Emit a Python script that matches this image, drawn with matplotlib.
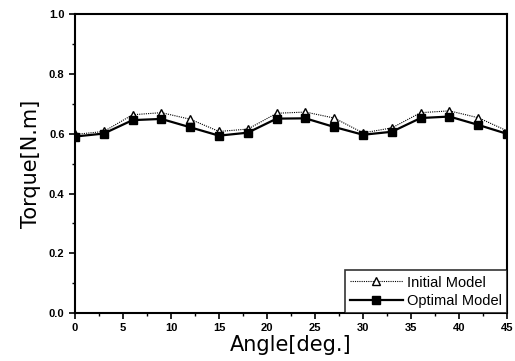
import matplotlib
matplotlib.use("Agg")
import matplotlib.pyplot as plt
from matplotlib.ticker import MultipleLocator

angle = [0, 3, 6, 9, 12, 15, 18, 21, 24, 27, 30, 33, 36, 39, 42, 45]
initial = [0.598, 0.608, 0.664, 0.671, 0.649, 0.608, 0.616, 0.669, 0.673, 0.653,
           0.603, 0.620, 0.671, 0.677, 0.654, 0.610]
optimal = [0.591, 0.601, 0.646, 0.650, 0.622, 0.594, 0.604, 0.651, 0.652, 0.623,
           0.597, 0.607, 0.653, 0.658, 0.630, 0.600]
xticks = [0, 5, 10, 15, 20, 25, 30, 35, 40, 45]
yticks = [0.0, 0.2, 0.4, 0.6, 0.8, 1.0]

fig = plt.figure(figsize=(5.15, 3.61), dpi=100)
ax = fig.add_axes([0.1456, 0.133, 0.839, 0.827])

ax.plot(angle, initial, linestyle=(0, (1, 1)), color="black", linewidth=0.8,
        marker="^", markersize=5.5, markerfacecolor="white", markeredgecolor="black",
        label="Initial Model")
ax.plot(angle, optimal, linestyle="-", color="black", linewidth=1.6,
        marker="s", markersize=5.5, markerfacecolor="black", label="Optimal Model")

ax.set_xlim(0, 45)
ax.set_ylim(0.0, 1.0)
ax.set_xticks(xticks)
ax.set_yticks(yticks)
ax.set_xticklabels([str(v) for v in xticks])
ax.set_yticklabels([f"{v:.1f}" for v in yticks])
ax.xaxis.set_minor_locator(MultipleLocator(2.5))
ax.yaxis.set_minor_locator(MultipleLocator(0.1))
ax.tick_params(which="major", direction="out", length=4, width=1.2,
               labelsize=8, top=False, right=False)
ax.tick_params(which="minor", direction="out", length=2.5, width=1.0,
               top=False, right=False)
for lab in ax.get_xticklabels() + ax.get_yticklabels():
    lab.set_fontweight("bold")
    lab.set_family("Liberation Sans")
for s in ax.spines.values():
    s.set_linewidth(1.5)

ax.set_xlabel("Angle[deg.]", fontsize=15, family="DejaVu Sans", labelpad=1)
ax.set_ylabel("Torque[N.m]", fontsize=15, family="DejaVu Sans", labelpad=6)

leg = ax.legend(loc="lower right", frameon=True, fancybox=False,
                borderaxespad=0.0, prop={"family": "Liberation Sans", "size": 10.5},
                handlelength=3.6, handletextpad=0.3, borderpad=0.35, labelspacing=0.3)
leg.get_frame().set_edgecolor("black")
leg.get_frame().set_linewidth(1.2)

fig.savefig("out.png", dpi=100)
